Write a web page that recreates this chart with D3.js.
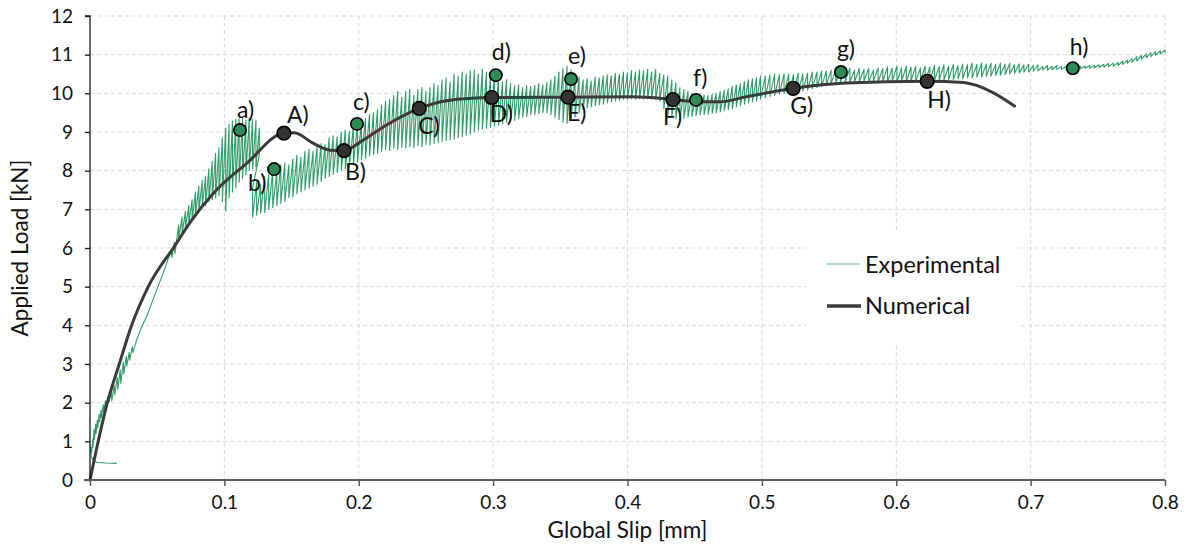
<!DOCTYPE html>
<html><head><meta charset="utf-8">
<script src="https://cdn.jsdelivr.net/npm/d3@7/dist/d3.min.js"></script>
<style>body{margin:0;background:#fff}svg{display:block;font-family:Lato,"Open Sans",sans-serif}</style>
</head><body><svg id="chart" width="1190" height="547"></svg>
<script>
// ---------- data ----------
const xTickValues = [0,0.1,0.2,0.3,0.4,0.5,0.6,0.7,0.8];
const yTickValues = [0,1,2,3,4,5,6,7,8,9,10,11,12];
const xTitle = "Global Slip [mm]";
const yTitle = "Applied Load [kN]";
const seriesNames = ["Experimental","Numerical"];

// Experimental: initial ramp, flat [slip, load] pairs
const expRamp = [0.0200,0.43, 0.0120,0.44, 0.0050,0.46, 0.0025,0.50, 0.0008,0.62, 0.0005,0.85, 0.0012,0.70, 0.0020,1.05, 0.0022,0.85,
 0.0030,1.30, 0.0033,1.05, 0.0042,1.45, 0.0045,1.20, 0.0055,1.55, 0.0058,1.35, 0.0068,1.70, 0.0072,1.50, 0.0082,1.80, 0.0086,1.62,
 0.0098,1.95, 0.0102,1.75, 0.0115,2.05, 0.0120,1.88, 0.0135,2.15, 0.0140,2.00, 0.0158,2.30, 0.0162,2.05, 0.0180,2.45, 0.0184,2.20,
 0.0203,2.65, 0.0207,2.35, 0.0225,2.85, 0.0229,2.50, 0.0248,3.05, 0.0252,2.75, 0.0270,3.20, 0.0274,2.95, 0.0292,3.30, 0.0296,3.10,
 0.0315,3.45, 0.0320,3.30, 0.0345,3.60, 0.0380,3.92, 0.0420,4.22, 0.0460,4.58, 0.0500,4.95, 0.0545,5.35, 0.0580,5.70, 0.0605,5.95,
 0.0610,5.75, 0.0628,6.15, 0.0632,5.85, 0.0650,6.35];
// Experimental first stick-slip band: flat [slip, peak load, drop load] triples
const expBand1 = [0.0660,6.60,6.25, 0.0685,6.80,6.35, 0.0710,6.95,6.50, 0.0735,7.10,6.60, 0.0760,7.25,6.70, 0.0785,7.45,6.85,
 0.0810,7.60,6.95, 0.0835,7.75,7.05, 0.0860,7.85,7.10, 0.0885,8.05,7.20, 0.0910,8.25,7.25, 0.0935,8.45,7.30, 0.0960,8.60,7.35,
 0.0985,8.85,7.20, 0.1010,9.10,6.95, 0.1035,9.20,7.30, 0.1060,9.28,7.45, 0.1085,9.33,7.55, 0.1110,9.35,7.70, 0.1135,9.36,7.80,
 0.1160,9.30,7.90, 0.1185,9.36,8.00, 0.1210,9.33,8.05, 0.1235,9.30,8.10, 0.1260,9.10,8.40];
// Experimental second band up to the end: flat [slip, peak load, drop load] triples
const expBand2 = [0.121,7.55,6.80, 0.124,7.70,6.85, 0.127,7.65,6.90, 0.130,7.85,6.92, 0.133,7.90,7.00, 0.136,8.00,7.05, 0.139,7.95,7.10,
 0.142,8.15,7.15, 0.145,8.20,7.20, 0.148,8.15,7.30, 0.151,8.30,7.32, 0.154,8.40,7.40, 0.157,8.35,7.45, 0.160,8.50,7.50, 0.163,8.55,7.55,
 0.166,8.50,7.60, 0.169,8.65,7.65, 0.172,8.70,7.72, 0.175,8.68,7.80, 0.178,8.85,7.85, 0.181,8.90,7.90, 0.184,8.88,7.95, 0.187,9.00,8.00,
 0.190,9.05,8.05, 0.193,9.02,8.10, 0.196,9.15,8.15, 0.199,9.22,8.22, 0.202,9.25,8.28, 0.205,9.35,8.32, 0.208,9.45,8.38, 0.211,9.50,8.42,
 0.214,9.58,8.45, 0.217,9.70,8.50, 0.220,9.80,8.55, 0.223,9.85,8.52, 0.226,9.95,8.58, 0.229,10.05,8.55, 0.232,9.90,8.60, 0.235,10.05,8.58,
 0.238,10.10,8.62, 0.241,9.95,8.60, 0.244,10.10,8.65, 0.247,10.15,8.62, 0.250,10.05,8.68, 0.253,10.15,8.66, 0.256,10.25,8.70,
 0.259,10.20,8.72, 0.262,10.35,8.75, 0.265,10.40,8.78, 0.268,10.30,8.80, 0.271,10.50,8.82, 0.274,10.45,8.85, 0.277,10.55,8.88,
 0.280,10.50,8.92, 0.283,10.58,8.95, 0.286,10.60,9.00, 0.289,10.50,9.05, 0.292,10.62,9.08, 0.295,10.55,9.10, 0.298,10.45,9.12,
 0.301,10.50,9.15, 0.304,10.40,9.18, 0.307,10.30,9.22, 0.310,10.35,9.25, 0.313,10.25,9.28, 0.316,10.20,9.30, 0.319,10.22,9.35,
 0.322,10.15,9.38, 0.325,10.20,9.40, 0.328,10.18,9.45, 0.331,10.20,9.45, 0.334,10.25,9.48, 0.337,10.22,9.50, 0.340,10.28,9.50,
 0.343,10.35,9.45, 0.346,10.45,9.38, 0.349,10.55,9.32, 0.352,10.65,9.25, 0.355,10.70,9.22, 0.358,10.60,9.30, 0.361,10.50,9.38,
 0.364,10.42,9.50, 0.367,10.35,9.58, 0.370,10.38,9.62, 0.373,10.32,9.65, 0.376,10.42,9.68, 0.379,10.40,9.70, 0.382,10.45,9.72,
 0.385,10.48,9.75, 0.388,10.45,9.78, 0.391,10.52,9.80, 0.394,10.50,9.82, 0.397,10.55,9.85, 0.400,10.52,9.85, 0.403,10.58,9.86,
 0.406,10.55,9.85, 0.409,10.60,9.86, 0.412,10.58,9.85, 0.415,10.62,9.86, 0.418,10.55,9.85, 0.421,10.62,9.84, 0.424,10.52,9.80,
 0.427,10.48,9.60, 0.430,10.45,9.42, 0.433,10.35,9.38, 0.436,10.28,9.35, 0.439,10.15,9.32, 0.442,10.10,9.35, 0.445,10.05,9.38,
 0.448,10.00,9.40, 0.451,9.98,9.42, 0.454,9.95,9.44, 0.457,9.96,9.45, 0.460,9.95,9.46, 0.463,9.98,9.48, 0.466,10.00,9.50,
 0.469,10.05,9.52, 0.472,10.08,9.55, 0.475,10.12,9.58, 0.478,10.18,9.60, 0.481,10.22,9.65, 0.484,10.25,9.68, 0.487,10.30,9.72,
 0.490,10.35,9.75, 0.493,10.38,9.78, 0.496,10.40,9.80, 0.499,10.45,9.85, 0.5025,10.45,9.88, 0.506,10.48,9.92, 0.5095,10.50,9.95,
 0.513,10.48,9.98, 0.5165,10.50,10.00, 0.520,10.50,10.00, 0.5235,10.48,10.02, 0.527,10.52,10.04, 0.5305,10.50,10.06, 0.534,10.52,10.08,
 0.5375,10.55,10.12, 0.541,10.55,10.15, 0.5445,10.58,10.18, 0.548,10.58,10.22, 0.5515,10.60,10.25, 0.555,10.62,10.28, 0.5585,10.65,10.30,
 0.562,10.62,10.30, 0.5655,10.65,10.30, 0.569,10.60,10.30, 0.5725,10.65,10.30, 0.576,10.62,10.32, 0.5795,10.65,10.30, 0.583,10.60,10.32,
 0.5865,10.66,10.30, 0.590,10.64,10.31, 0.5935,10.68,10.30, 0.597,10.65,10.32, 0.6005,10.70,10.30, 0.604,10.66,10.32, 0.6075,10.70,10.30,
 0.611,10.68,10.32, 0.6145,10.70,10.31, 0.618,10.66,10.33, 0.6215,10.70,10.30, 0.625,10.68,10.33, 0.6285,10.72,10.34, 0.632,10.70,10.35,
 0.6355,10.74,10.34, 0.639,10.70,10.36, 0.6425,10.75,10.36, 0.646,10.72,10.38, 0.6495,10.76,10.38, 0.653,10.74,10.40, 0.6565,10.78,10.40,
 0.660,10.75,10.42, 0.6635,10.78,10.42, 0.667,10.76,10.44, 0.6705,10.78,10.45, 0.674,10.75,10.46, 0.6775,10.78,10.47, 0.681,10.76,10.48,
 0.6845,10.78,10.50, 0.688,10.74,10.52, 0.6915,10.76,10.53, 0.695,10.73,10.55, 0.6985,10.75,10.55, 0.702,10.72,10.57, 0.7055,10.74,10.58,
 0.709,10.70,10.60, 0.7125,10.72,10.60, 0.716,10.70,10.61, 0.7195,10.72,10.62, 0.723,10.69,10.62, 0.7265,10.70,10.63, 0.730,10.68,10.64,
 0.7335,10.69,10.64, 0.737,10.70,10.64, 0.7405,10.70,10.65, 0.744,10.72,10.65, 0.7475,10.72,10.66, 0.751,10.74,10.67, 0.7545,10.75,10.68,
 0.758,10.77,10.69, 0.7615,10.78,10.70, 0.765,10.80,10.72, 0.7685,10.83,10.75, 0.772,10.86,10.78, 0.7755,10.90,10.80, 0.779,10.95,10.84,
 0.7825,10.98,10.88, 0.786,11.02,10.92, 0.7895,11.05,10.95, 0.793,11.08,10.98, 0.7965,11.10,11.02, 0.800,11.12,11.05];

// Numerical curve
const numSlip = [0,0.0074,0.0129,0.0218,0.031,0.0434,0.063,0.0757,0.0917,0.1166,0.1443,0.1520,0.166,0.1786,0.189,0.2033,0.2207,0.245,
 0.2654,0.299,0.3557,0.4042,0.434,0.452,0.4688,0.4885,0.5233,0.563,0.623,0.65,0.672,0.688];
const numLoad = [0,1.2,2.0,3.0,4.0,5.0,6.05,6.72,7.41,8.19,8.97,8.98,8.71,8.53,8.52,8.79,9.18,9.61,
 9.81,9.89,9.90,9.91,9.84,9.78,9.78,9.91,10.13,10.27,10.31,10.28,10.02,9.67];

// Marked points
const numMarkNames = ["A)","B)","C)","D)","E)","F)","G)","H)"];
const numMarkSlip = [0.1443,0.189,0.245,0.299,0.3557,0.4338,0.5233,0.623];
const numMarkLoad = [8.97,8.52,9.61,9.89,9.90,9.84,10.13,10.31];
const expMarkNames = ["a)","b)","c)","d)","e)","f)","g)","h)"];
const expMarkSlip = [0.1116,0.137,0.1987,0.302,0.358,0.451,0.5588,0.7314];
const expMarkLoad = [9.05,8.04,9.21,10.47,10.37,9.83,10.55,10.65];

// ---------- styles / layout ----------
const numLabelOffset = [[3,-10],[1,29],[-1,26],[-2,24],[-1,24],[-10,25],[-3,26],[0,27]];
const expLabelOffset = [[-3,-12],[-26,22],[-4,-14],[-4,-15],[-3,-15],[-3,-14],[-4,-15],[-3,-13]];
const plot = {left: 90, right: 1165, top: 16, bottom: 480};
const expColor = "#2f9b68", markGreen = "#2e8b57", numColor = "#3b3b3b", textColor = "#111";

const svg = d3.select("#chart");
const x = d3.scaleLinear().domain([0,0.8]).range([plot.left, plot.right]);
const y = d3.scaleLinear().domain([0,12]).range([plot.bottom, plot.top]);

// gridlines
const grid = svg.append("g");
grid.selectAll("line.h").data(yTickValues.slice(1)).join("line")
  .attr("x1", plot.left).attr("x2", plot.right).attr("y1", d=>y(d)).attr("y2", d=>y(d))
  .attr("stroke","#d9d9d9").attr("stroke-width",1).attr("stroke-dasharray","4,3");
grid.selectAll("line.v").data(xTickValues.slice(1)).join("line")
  .attr("y1", plot.top).attr("y2", plot.bottom).attr("x1", d=>x(d)).attr("x2", d=>x(d))
  .attr("stroke","#d9d9d9").attr("stroke-width",1).attr("stroke-dasharray","4,3");

// experimental path
const expPts = [];
for (let i=0;i<expRamp.length;i+=2) expPts.push([expRamp[i], expRamp[i+1]]);
for (const band of [expBand1, expBand2]) {
  for (let i=0;i<band.length;i+=3) { expPts.push([band[i], band[i+1]]); expPts.push([band[i], band[i+2]]); }
}
const line = d3.line().x(d=>x(d[0])).y(d=>y(d[1]));
svg.append("path").datum(expPts).attr("d", line).attr("fill","none")
  .attr("stroke", expColor).attr("stroke-width", 1.1).attr("stroke-linejoin","round");

// numerical
const numPts = numSlip.map((s,i)=>[s, numLoad[i]]);
svg.append("path").datum(numPts).attr("d", d3.line().x(d=>x(d[0])).y(d=>y(d[1])).curve(d3.curveMonotoneX))
  .attr("fill","none").attr("stroke", numColor).attr("stroke-width", 3).attr("stroke-linecap","round");

// axes
const yAxis = d3.axisLeft(y).tickValues(yTickValues).tickSize(5).tickPadding(12).tickFormat(d3.format("d"));
const yG = svg.append("g").attr("transform",`translate(${plot.left},0)`).call(yAxis);
yG.select(".domain").attr("stroke","#1a1a1a").attr("stroke-width",1.3).attr("d",`M-5,${plot.top}H0V${plot.bottom}`);
yG.selectAll(".tick line").attr("stroke","#1a1a1a").attr("stroke-width",1.3);
yG.selectAll("text").attr("font-size",19).attr("fill",textColor).attr("font-family","Lato");

const xAxis = d3.axisBottom(x).tickValues(xTickValues).tickSize(6).tickPadding(10).tickFormat(d=>d===0?"0":d3.format(".1f")(d));
const xG = svg.append("g").attr("transform",`translate(0,${plot.bottom})`).call(xAxis);
xG.select(".domain").attr("stroke","#5a5a5a").attr("stroke-width",2).attr("d",`M${plot.left-6},0H${plot.right}`);
xG.selectAll(".tick line").attr("stroke","#5a5a5a").attr("stroke-width",1.5);
xG.selectAll("text").attr("font-size",19).attr("fill",textColor).attr("font-family","Lato");

// titles
svg.append("text").attr("x",(plot.left+plot.right)/2).attr("y",538).attr("text-anchor","middle")
  .attr("font-size",22.5).attr("fill",textColor).text(xTitle);
svg.append("text").attr("transform",`translate(28,${(plot.top+plot.bottom)/2}) rotate(-90)`).attr("text-anchor","middle")
  .attr("font-size",22.5).attr("fill",textColor).text(yTitle);

// markers
const numMarks = numMarkSlip.map((s,i)=>({s, l:numMarkLoad[i], n:numMarkNames[i], o:numLabelOffset[i]}));
const expMarks = expMarkSlip.map((s,i)=>({s, l:expMarkLoad[i], n:expMarkNames[i], o:expLabelOffset[i]}));
svg.append("g").selectAll("circle").data(numMarks).join("circle")
  .attr("cx",d=>x(d.s)).attr("cy",d=>y(d.l)).attr("r",6.8)
  .attr("fill","#333").attr("stroke","#000").attr("stroke-width",1.6);
svg.append("g").selectAll("circle").data(expMarks).join("circle")
  .attr("cx",d=>x(d.s)).attr("cy",d=>y(d.l)).attr("r",6.2)
  .attr("fill",markGreen).attr("stroke","#000").attr("stroke-width",1.6);
svg.append("g").selectAll("text").data(numMarks.concat(expMarks)).join("text")
  .attr("x",d=>x(d.s)+d.o[0]).attr("y",d=>y(d.l)+d.o[1])
  .attr("font-size",23).attr("fill",textColor).text(d=>d.n);

// legend
const lg = svg.append("g");
lg.append("rect").attr("x",806).attr("y",233).attr("width",211).attr("height",111).attr("fill","#fff");
lg.append("line").attr("x1",827).attr("x2",860).attr("y1",264).attr("y2",264).attr("stroke","#8fcfb2").attr("stroke-width",1.5);
lg.append("line").attr("x1",827).attr("x2",861).attr("y1",306).attr("y2",306).attr("stroke",numColor).attr("stroke-width",3.5);
lg.append("text").attr("x",865).attr("y",273).attr("font-size",23.5).attr("fill",textColor).text(seriesNames[0]);
lg.append("text").attr("x",865).attr("y",314).attr("font-size",23.5).attr("fill",textColor).text(seriesNames[1]);
</script></body></html>
